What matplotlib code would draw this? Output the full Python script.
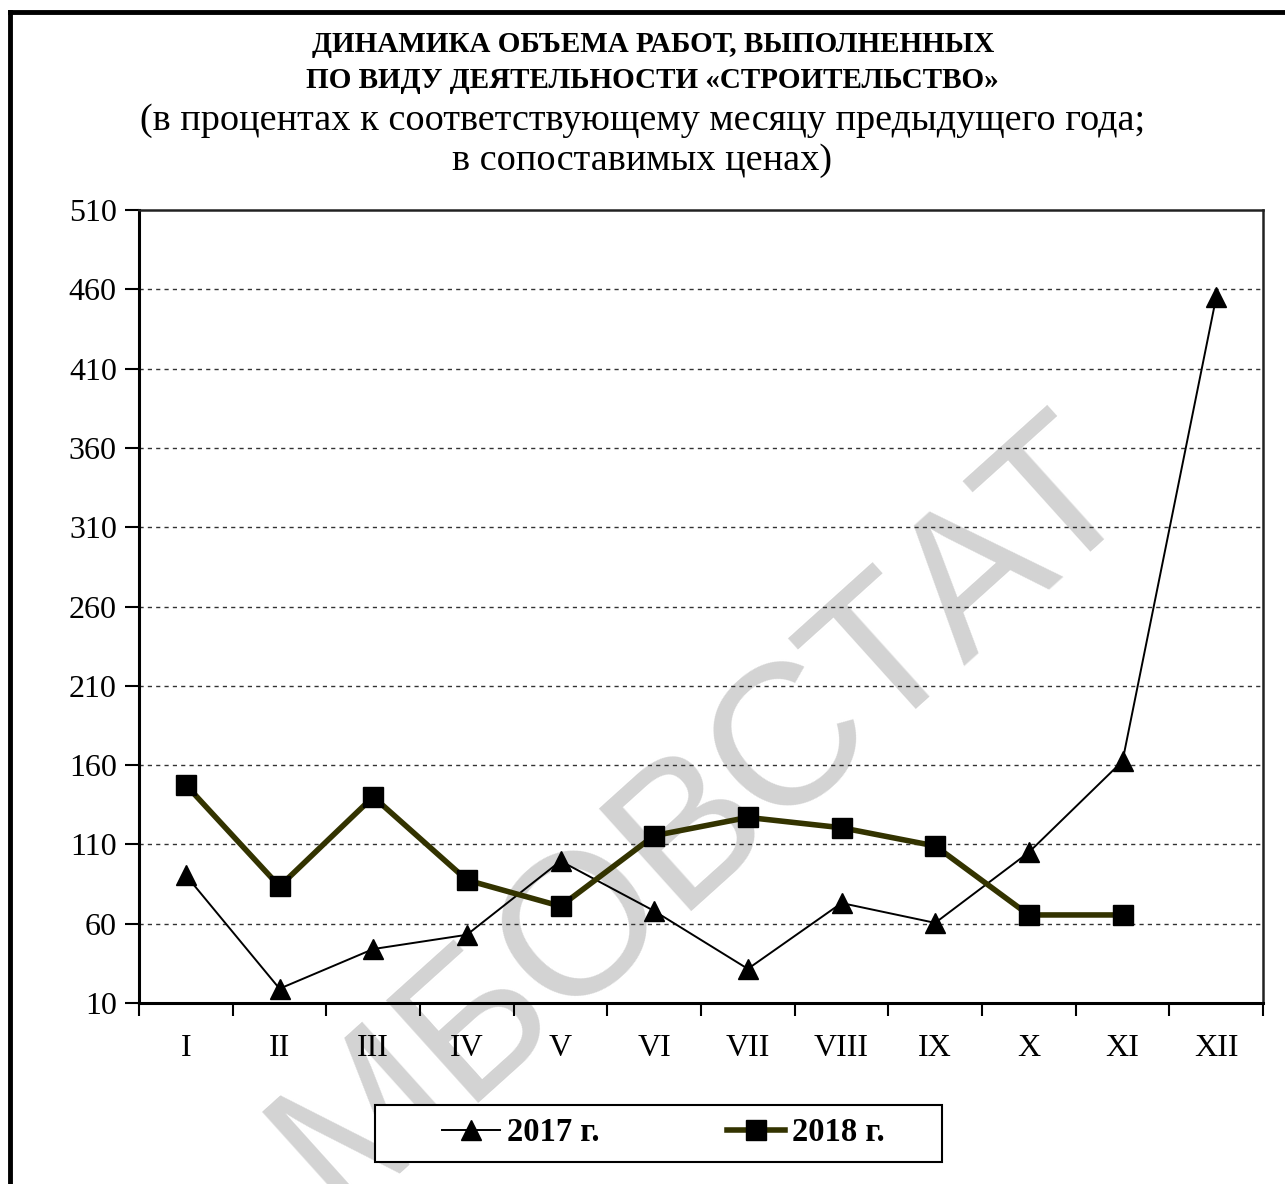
import numpy as np
import matplotlib.pyplot as plt
from matplotlib.lines import Line2D
from matplotlib.patches import Rectangle

# данные (в % к соответствующему месяцу предыдущего года)
months = ['I', 'II', 'III', 'IV', 'V', 'VI', 'VII', 'VIII', 'IX', 'X', 'XI', 'XII']
y2017 = [90.5, 19, 44, 53, 99.5, 68, 31.5, 73, 60.5, 105, 162.5, 455]
y2018 = [147.5, 83.5, 140, 87.5, 71, 115.5, 127, 120.5, 109, 65.5, 65.5]
yticks = [10, 60, 110, 160, 210, 260, 310, 360, 410, 460, 510]

plt.rcParams['font.family'] = ['Liberation Serif', 'DejaVu Serif']

fig = plt.figure(figsize=(12.85, 11.84), dpi=100)
ax = fig.add_axes([0.1082, 0.1529, 0.8747, 0.6697])
ax.set_facecolor('none')

x17 = np.arange(1, len(y2017) + 1)
x18 = np.arange(1, len(y2018) + 1)
ax.plot(x17, y2017, color='black', lw=1.4, marker='^', ms=15, mfc='black', mec='black',
        label='2017 г.', zorder=3)
ax.plot(x18, y2018, color='#333300', lw=4, marker='s', ms=15, mfc='black', mec='black',
        label='2018 г.', zorder=4)

ax.set_xlim(0.5, 12.5)
ax.set_ylim(10, 510)
ax.set_yticks(yticks)
ax.set_yticklabels([str(v) for v in yticks], fontsize=23)
ax.set_xticks(np.arange(1, 13))
ax.set_xticklabels(months, fontsize=23)
ax.set_xticks(np.arange(0.5, 13), minor=True)
ax.tick_params(axis='x', which='major', length=0, pad=22)
ax.tick_params(axis='x', which='minor', length=9, width=1.5, direction='out')
ax.tick_params(axis='y', length=10, width=1.5, direction='out', pad=6)

for v in yticks[1:-1]:
    ax.axhline(v, color='#333333', lw=1, ls=(0, (3, 3)), zorder=1)

for s in ['left', 'bottom']:
    ax.spines[s].set_linewidth(2.2)
for s in ['top', 'right']:
    ax.spines[s].set_linewidth(1.8)
    ax.spines[s].set_color('#222222')

# заголовок
fig.text(0.508, 0.962, 'ДИНАМИКА ОБЪЕМА РАБОТ, ВЫПОЛНЕННЫХ', ha='center', va='center',
         fontsize=21, fontweight='bold')
fig.text(0.508, 0.932, 'ПО ВИДУ ДЕЯТЕЛЬНОСТИ «СТРОИТЕЛЬСТВО»', ha='center', va='center',
         fontsize=21, fontweight='bold')
fig.text(0.5, 0.898, '(в процентах к соответствующему месяцу предыдущего года;', ha='center',
         va='center', fontsize=27.5)
fig.text(0.5, 0.864, 'в сопоставимых ценах)', ha='center', va='center', fontsize=27.5)

# водяной знак
fig.text(705 / 1285, 1 - 815 / 1184, 'МБОВСТАТ', ha='center', va='center', rotation=42,
         fontsize=145, color='#d3d3d3', family='Liberation Sans', zorder=-1)

# рамка
fig.add_artist(Line2D([0.0078, 0.0078], [0, 0.9896], color='black', lw=3.5))
fig.add_artist(Line2D([0.0078, 1], [0.9896, 0.9896], color='black', lw=3.5))

# легенда
fig.add_artist(Rectangle((0.2918, 0.0186), 0.4412, 0.0481, transform=fig.transFigure,
                         fill=True, facecolor='white', edgecolor='black', lw=1.5, zorder=4))
leg = fig.legend(loc='center', bbox_to_anchor=(0.5163, 0.0431), ncol=2, frameon=False,
                 handlelength=1.78, columnspacing=3.9, handletextpad=0.21,
                 prop={'family': 'Liberation Serif', 'weight': 'bold', 'size': 23.5})
leg.set_zorder(5)

fig.savefig('out.png', dpi=100, facecolor='white')
